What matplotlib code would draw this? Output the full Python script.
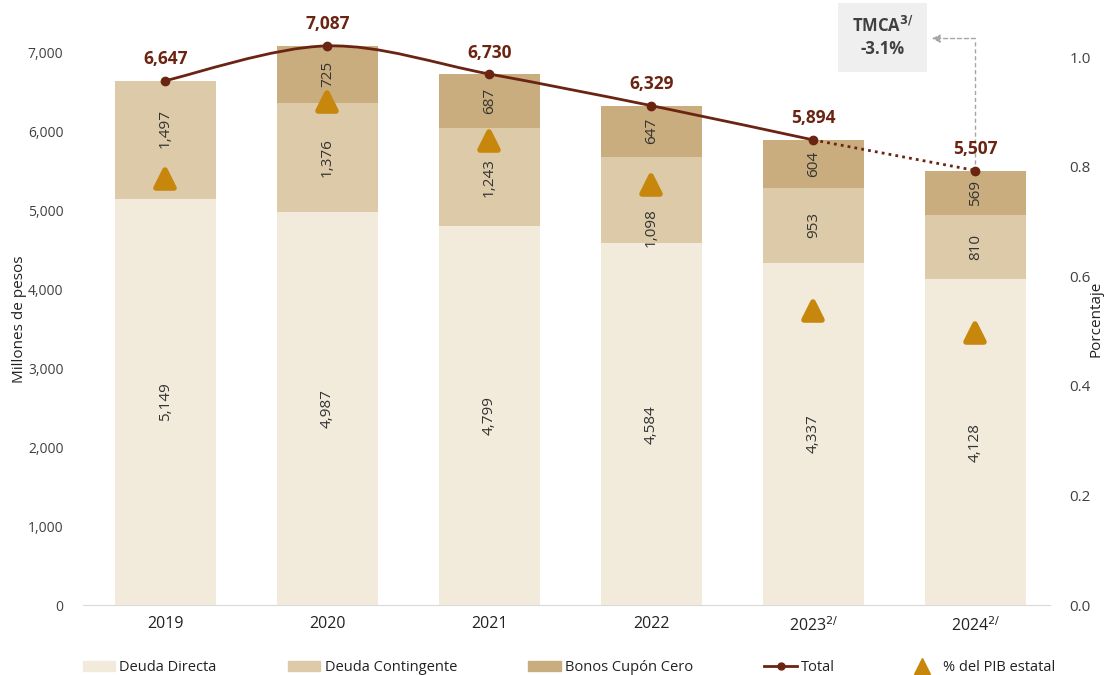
import numpy as np
import matplotlib.pyplot as plt
from matplotlib.path import Path
from matplotlib.patches import PathPatch, Patch
from matplotlib.lines import Line2D
from matplotlib.markers import MarkerStyle

# Data
years = ['2019', '2020', '2021', '2022', '2023$^{2/}$', '2024$^{2/}$']
deuda_directa = [5149, 4987, 4799, 4584, 4337, 4128]
deuda_contingente = [1497, 1376, 1243, 1098, 953, 810]
bonos_cupon_cero = [0, 725, 687, 647, 604, 569]
total = [6647, 7087, 6730, 6329, 5894, 5507]
pct_pib = [0.777, 0.918, 0.847, 0.766, 0.536, 0.496]
tmca = '-3.1%'

c_directa = '#F2EBDC'
c_conting = '#DDCAA8'
c_bonos = '#C9AD7E'
c_line = '#6B2412'
c_tri = '#C7860C'
c_text = '#404040'

plt.rcParams['font.family'] = ['Open Sans', 'DejaVu Sans']
plt.rcParams['mathtext.fontset'] = 'dejavusans'

fig = plt.figure(figsize=(11.2, 6.75), dpi=100)
ax = fig.add_axes([0.074, 0.1037, 0.8635, 0.8474])
ax2 = ax.twinx()

x = np.arange(len(years))
w = 0.625
b1 = np.array(deuda_directa)
b2 = b1 + np.array(deuda_contingente)
ax.bar(x, deuda_directa, w, color=c_directa, zorder=2)
ax.bar(x, deuda_contingente, w, bottom=b1, color=c_conting, zorder=2)
ax.bar(x, bonos_cupon_cero, w, bottom=b2, color=c_bonos, zorder=2)

# segment labels (contingente labels nudged away from the triangles, in points)
nudge = [8, 0, 0, -20, 0, 0]
for i in range(len(x)):
    ax.text(x[i], deuda_directa[i] / 2, f'{deuda_directa[i]:,}', rotation=90,
            ha='center', va='center', fontsize=11, color='#333333', zorder=5)
    ax.annotate(f'{deuda_contingente[i]:,}', (x[i], b1[i] + deuda_contingente[i] / 2),
                xytext=(0, nudge[i]), textcoords='offset points', rotation=90,
                ha='center', va='center', fontsize=11, color='#333333', zorder=10)
    if bonos_cupon_cero[i] > 0:
        ax.text(x[i], b2[i] + bonos_cupon_cero[i] / 2, f'{bonos_cupon_cero[i]:,}', rotation=90,
                ha='center', va='center', fontsize=11, color='#333333', zorder=5)

# smooth total line (2019-2023), dotted for last segment
n = len(x) - 1
px = list(x[:n]); py = list(total[:n])
verts = [(px[0], py[0])]
codes = [Path.MOVETO]
for i in range(n - 1):
    p0 = (px[max(i - 1, 0)], py[max(i - 1, 0)])
    p1 = (px[i], py[i])
    p2 = (px[i + 1], py[i + 1])
    p3 = (px[min(i + 2, n - 1)], py[min(i + 2, n - 1)])
    c1 = (p1[0] + (p2[0] - p0[0]) / 6, p1[1] + (p2[1] - p0[1]) / 6)
    c2 = (p2[0] - (p3[0] - p1[0]) / 6, p2[1] - (p3[1] - p1[1]) / 6)
    verts += [c1, c2, p2]
    codes += [Path.CURVE4] * 3
ax.add_patch(PathPatch(Path(verts, codes), fill=False, edgecolor=c_line, lw=2, zorder=6))
ax.plot(x[n - 1:], total[n - 1:], color=c_line, lw=2, ls=(0, (1, 1.5)), zorder=6)
ax.plot(x, total, 'o', color=c_line, ms=6, zorder=7)
for i in range(len(x)):
    ax.annotate(f'{total[i]:,}', (x[i], total[i]), xytext=(0, 9), textcoords='offset points',
                ha='center', va='bottom', fontsize=12.5, fontweight='bold', color=c_line, zorder=8)

# percent of state GDP
tri = MarkerStyle('^', joinstyle='round')
ax2.plot(x, pct_pib, marker=tri, color=c_tri, mec=c_tri, ms=13, mew=4,
         ls='none', zorder=9)

ax.set_xlim(-0.51, 5.46)
ax.set_ylim(0, 7250)
ax2.set_ylim(0, 1.0438)
ax.set_yticks(range(0, 8000, 1000))
ax.set_yticklabels([f'{v:,}' for v in range(0, 8000, 1000)])
ax2.set_yticks([0, 0.2, 0.4, 0.6, 0.8, 1.0])
ax2.set_yticklabels(['0.0', '0.2', '0.4', '0.6', '0.8', '1.0'])
ax.set_xticks(x)
ax.set_xticklabels(years, fontsize=11.5, color='#222222')
ax.tick_params(axis='y', length=0, labelsize=10, labelcolor=c_text, pad=14)
ax.tick_params(axis='x', length=0, pad=8)
ax2.tick_params(axis='y', length=0, labelsize=11, labelcolor=c_text, pad=14)
for a in (ax, ax2):
    for s in ['top', 'right', 'left']:
        a.spines[s].set_visible(False)
    a.spines['bottom'].set_color('#D9D9D9')
ax2.spines['bottom'].set_visible(False)
ax.set_ylabel('Millones de pesos', fontsize=11, color='#222222')
ax2.set_ylabel('Porcentaje', fontsize=11, color='#222222', labelpad=-2)
ax.yaxis.set_label_coords(-0.058, 0.5)

# TMCA box and arrow
ax.text(4.426, 7195, 'TMCA$^{\\mathbf{3/}}$\n' + tmca, ha='center', va='center',
        fontsize=12, fontweight='bold', color='#404040', linespacing=1.3,
        bbox=dict(boxstyle='square,pad=0.8', fc='#EFEFEF', ec='none'), zorder=10)
ax.plot([5, 5], [5590, 7180], color='#A6A6A6', lw=1, ls=(0, (3, 2)), zorder=4)
ax.annotate('', xy=(4.73, 7180), xytext=(5, 7180),
            arrowprops=dict(arrowstyle='-|>', color='#A6A6A6', lw=1, ls=(0, (3, 2)),
                            shrinkA=0, shrinkB=0, mutation_scale=12), zorder=4)

handles = [Patch(color=c_directa), Patch(color=c_conting), Patch(color=c_bonos),
           Line2D([], [], color=c_line, lw=2, marker='o', ms=5),
           Line2D([], [], color=c_tri, marker='^', ms=11, ls='none')]
labels = ['Deuda Directa', 'Deuda Contingente', 'Bonos Cupón Cero', 'Total', '% del PIB estatal']
fig.legend(handles, labels, loc='lower center', bbox_to_anchor=(0.508, -0.02), ncol=5,
           frameon=False, fontsize=10.5, columnspacing=4.9, handlelength=2.2,
           handletextpad=0.3, labelcolor='#222222')

fig.savefig('out.png', dpi=100)
